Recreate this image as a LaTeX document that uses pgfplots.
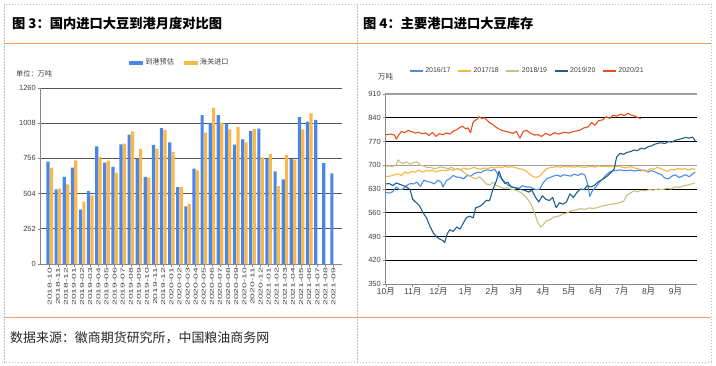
\documentclass[border=0pt]{standalone}
\usepackage{fontspec}
\usepackage{graphicx}
\usepackage{pgfplots}
\pgfplotsset{compat=1.18}
\setmainfont{Liberation Sans}
\newfontfamily\cjk{Noto Sans CJK SC}
\definecolor{barblue}{HTML}{4A86E8}
\definecolor{barorange}{HTML}{F9B84A}
\definecolor{frameorange}{HTML}{F0A062}
\definecolor{dashgray}{HTML}{BBBBBB}
\definecolor{txt}{HTML}{404040}
\definecolor{gridc}{HTML}{555555}
\definecolor{axisgray}{HTML}{888888}
\definecolor{sA}{HTML}{4C8CE4}
\definecolor{sB}{HTML}{F9B640}
\definecolor{sC}{HTML}{C6C27A}
\definecolor{sD}{HTML}{1F5F8E}
\definecolor{sE}{HTML}{E6501E}
\newcommand\xs[1]{\scalebox{1.85}[1]{#1}}
\begin{document}
\begin{tikzpicture}[x=1bp,y=1bp]
\path[use as bounding box,fill=white] (0bp,0bp) rectangle (716bp,-366bp);
% frame
\draw[dashgray,dash pattern=on 1.5bp off 1.5bp,line width=0.6bp] (4bp,-4bp) rectangle (711bp,-362bp);
\draw[dashgray,dash pattern=on 1.5bp off 1.5bp,line width=0.6bp] (357bp,-4bp) -- (357bp,-362bp);
\draw[frameorange,line width=0.9bp] (4bp,-43.5bp) -- (711bp,-43.5bp);
\draw[frameorange,line width=0.9bp] (4bp,-317bp) -- (711bp,-317bp);
% titles
\node[anchor=west,inner sep=0pt,font=\cjk\bfseries\fontsize{13.3}{15}\selectfont] at (12bp,-23bp) {图 3：国内进口大豆到港月度对比图};
\node[anchor=west,inner sep=0pt,font=\cjk\bfseries\fontsize{13.3}{15}\selectfont] at (363bp,-23bp) {图 4：主要港口进口大豆库存};
\node[anchor=west,inner sep=0pt,font=\cjk\fontsize{13}{15}\selectfont,text=black!85] at (10bp,-338bp) {数据来源：徽商期货研究所，中国粮油商务网};
\node[anchor=west,inner sep=0pt,font=\cjk\fontsize{7.2}{8}\selectfont,text=txt] at (16bp,-74bp) {单位：万吨};
\node[anchor=west,inner sep=0pt,font=\cjk\fontsize{7.5}{8}\selectfont,text=txt] at (378bp,-77bp) {万吨};

% left chart
\begin{axis}[
 at={(40bp,-264bp)}, anchor=south west, scale only axis, width=302bp, height=176bp,
 xmin=-1.2, xmax=36.04, ymin=0, ymax=1260,
 axis x line*=bottom, axis y line*=left,
 axis line style={color=axisgray, line width=0.8bp},
 ytick={0,252,504,756,1008,1260},
 ymajorgrids, grid style={color=gridc, line width=0.7bp},
 xtick={0,...,35},
 xticklabels={\xs{2018-10},\xs{2018-11},\xs{2018-12},\xs{2019-01},\xs{2019-02},\xs{2019-03},\xs{2019-04},\xs{2019-05},\xs{2019-06},\xs{2019-07},\xs{2019-08},\xs{2019-09},\xs{2019-10},\xs{2019-11},\xs{2019-12},\xs{2020-01},\xs{2020-02},\xs{2020-03},\xs{2020-04},\xs{2020-05},\xs{2020-06},\xs{2020-07},\xs{2020-08},\xs{2020-09},\xs{2020-10},\xs{2020-11},\xs{2020-12},\xs{2021-01},\xs{2021-02},\xs{2021-03},\xs{2021-04},\xs{2021-05},\xs{2021-06},\xs{2021-07},\xs{2021-08},\xs{2021-09}},
 x tick label style={rotate=90, anchor=east, font=\fontsize{5.6}{6}\selectfont, text=txt, inner sep=1bp},
 y tick label style={font=\fontsize{7.5}{8}\selectfont, text=txt, inner sep=1.5bp},
 /pgf/number format/assume math mode=true,
 /pgf/number format/1000 sep={},
 tick align=outside, major tick length=2.5bp, tick style={color=axisgray, line width=0.6bp},
 ybar=0.2bp, bar width=3.2bp,
 legend style={at={(0.295,1.144)}, anchor=west, draw=none, fill=none, inner sep=0pt,
   legend columns=2, font=\cjk\fontsize{7.2}{8}\selectfont, text=txt,
   /tikz/every even column/.append style={column sep=8bp}},
]
\addplot[fill=barblue, draw=none, legend image code/.code={\fill[barblue] (0bp,-2bp) rectangle (14bp,2bp);}] coordinates {
(0,733) (1,534) (2,623) (3,690) (4,390) (5,522) (6,843) (7,726) (8,695) (9,857) (10,927) (11,755) (12,623) (13,853) (14,973) (15,870) (16,551) (17,412) (18,683) (19,1066) (20,1006) (21,1066) (22,1006) (23,855) (24,893) (25,953) (26,970) (27,755) (28,664) (29,606) (30,750) (31,1052) (32,1020) (33,1032) (34,723) (35,649)};
\addlegendentry{到港预估}
\addplot[fill=barorange, draw=none, legend image code/.code={\fill[barorange] (0bp,-2bp) rectangle (14bp,2bp);}] coordinates {
(0,690) (1,539) (2,570) (3,742) (4,446) (5,491) (6,767) (7,740) (8,654) (9,862) (10,949) (11,824) (12,618) (13,826) (14,958) (15,802) (16,551) (17,429) (18,671) (19,941) (20,1119) (21,1013) (22,963) (23,980) (24,870) (25,965) (26,764) (27,786) (28,558) (29,779) (30,747) (31,963) (32,1078)};
\addlegendentry{海关进口}
\end{axis}

% right chart
\begin{axis}[
 at={(385bp,-284bp)}, anchor=south west, scale only axis, width=312bp, height=190bp,
 xmin=-1, xmax=360, ymin=350, ymax=910,
 axis x line*=bottom, axis y line*=left,
 axis line style={color=axisgray, line width=1bp},
 ytick={350,420,490,560,630,770,840}, extra y ticks={700,910},
 extra y tick style={major grid style={color=gray!75, line width=1.4bp}},
 ymajorgrids, grid style={color=black, line width=0.6bp},
 xtick={0,31,61,92,123,151,182,212,243,273,304,335},
 xticklabels={10{\cjk 月},11{\cjk 月},12{\cjk 月},1{\cjk 月},2{\cjk 月},3{\cjk 月},4{\cjk 月},5{\cjk 月},6{\cjk 月},7{\cjk 月},8{\cjk 月},9{\cjk 月}},
 x tick label style={font=\fontsize{8.5}{9}\selectfont, text=txt, inner sep=1bp},
 y tick label style={font=\fontsize{7.5}{8}\selectfont, text=txt, inner sep=1.5bp},
 /pgf/number format/assume math mode=true,
 tick align=outside, major tick length=2.5bp, tick style={color=axisgray, line width=0.6bp},
 legend style={at={(0.077,1.121)}, anchor=west, draw=none, fill=none, inner sep=0pt,
   legend columns=5, font=\fontsize{7}{8}\selectfont, text=txt,
   /tikz/every even column/.append style={column sep=5bp}},
 legend image code/.code={\draw[#1, line width=1.1bp] (0bp,0bp) -- (13bp,0bp);},
 every axis plot/.append style={line width=1.1bp, line join=round},
]
\addplot[sA] coordinates {
(0,620) (4,618) (8,622) (12,636) (16,628) (20,630) (24,640) (28,646) (32,645) (36,650) (40,638) (44,656) (48,652) (52,650) (56,645) (60,656) (64,650) (66,636) (70,655) (74,660) (78,670) (82,665) (86,664) (90,660) (94,670) (98,668) (102,675) (106,680) (110,678) (114,685) (118,686) (122,684) (126,688) (130,672) (134,660) (138,650) (142,640) (146,636) (150,634) (154,632) (158,640) (162,636) (166,636) (170,632) (174,628) (178,630) (182,648) (186,660) (190,664) (194,668) (198,671) (202,667) (206,672) (210,670) (214,668) (218,674) (222,670) (226,675) (230,672) (233,650) (236,608) (239,625) (243,636) (247,650) (251,660) (255,672) (259,680) (263,684) (267,685) (271,686) (275,685) (279,684) (283,686) (287,683) (291,685) (295,684) (299,686) (303,680) (307,684) (311,681) (315,676) (319,672) (323,662) (327,660) (331,668) (335,672) (339,664) (343,668) (347,672) (351,666) (355,675) (358,680)};
\addlegendentry{2016/17}
\addplot[sB] coordinates {
(0,667) (5,668) (10,672) (14,675) (18,670) (22,680) (26,676) (30,682) (34,680) (38,686) (42,680) (46,684) (50,683) (54,686) (58,680) (62,684) (66,686) (70,684) (74,688) (78,685) (82,690) (86,686) (90,692) (94,688) (98,690) (102,694) (106,690) (110,688) (114,692) (118,690) (122,694) (126,692) (130,695) (134,693) (138,697) (142,694) (146,696) (150,693) (154,690) (158,688) (162,684) (166,675) (170,667) (174,664) (178,668) (182,680) (186,690) (190,693) (194,694) (198,696) (202,694) (206,697) (210,695) (214,696) (218,694) (222,697) (226,695) (230,694) (234,696) (238,697) (242,694) (246,698) (250,696) (254,697) (258,695) (262,698) (266,696) (270,697) (274,694) (278,692) (282,696) (286,694) (290,690) (294,688) (298,684) (302,682) (306,690) (310,688) (314,694) (318,690) (322,686) (326,682) (330,688) (334,686) (338,690) (342,688) (346,690) (350,686) (354,690) (358,688)};
\addlegendentry{2017/18}
\addplot[sC] coordinates {
(0,697) (4,698) (8,696) (12,702) (14,716) (17,708) (20,705) (24,710) (28,703) (32,708) (36,710) (40,700) (44,698) (48,693) (52,694) (56,690) (60,692) (64,695) (68,693) (72,690) (76,694) (80,688) (84,690) (88,684) (92,676) (96,670) (100,664) (104,660) (108,666) (112,658) (116,645) (120,642) (124,650) (128,640) (132,636) (136,632) (140,634) (144,630) (148,628) (152,625) (156,620) (160,612) (164,600) (168,585) (172,560) (176,530) (179,518) (182,524) (185,535) (190,540) (195,548) (200,550) (205,556) (210,560) (215,566) (220,568) (225,572) (230,570) (235,574) (240,573) (245,575) (250,580) (255,582) (260,585) (265,586) (270,590) (275,594) (279,612) (283,618) (287,625) (291,622) (295,626) (300,625) (305,628) (310,627) (315,630) (320,628) (325,632) (330,630) (335,636) (340,635) (345,640) (350,642) (355,646) (358,648)};
\addlegendentry{2018/19}
\addplot[sD] coordinates {
(0,645) (4,646) (8,640) (12,648) (16,644) (20,640) (24,636) (28,628) (31,600) (35,590) (39,580) (43,560) (47,545) (51,520) (55,500) (59,488) (62,483) (66,478) (68,472) (71,498) (74,510) (78,505) (82,518) (86,512) (89,527) (93,545) (97,550) (101,545) (104,575) (108,578) (112,585) (116,596) (120,596) (124,630) (128,655) (131,682) (134,660) (138,646) (141,650) (145,636) (149,634) (153,631) (157,628) (161,626) (165,621) (169,626) (173,606) (177,592) (181,610) (185,600) (189,596) (193,605) (197,575) (201,590) (205,585) (209,592) (213,616) (217,605) (221,620) (225,630) (229,628) (233,640) (237,636) (241,640) (245,650) (249,656) (253,662) (257,670) (261,680) (264,688) (267,724) (271,735) (275,732) (279,738) (283,740) (287,745) (291,743) (295,750) (299,748) (303,754) (307,757) (311,762) (315,765) (319,766) (323,764) (327,770) (331,768) (335,774) (339,776) (343,779) (347,782) (351,780) (355,783) (358,772)};
\addlegendentry{2019/20}
\addplot[sE] coordinates {
(0,790) (5,792) (10,789) (12,777) (15,790) (18,800) (22,796) (26,803) (30,799) (34,795) (38,797) (42,793) (46,795) (50,788) (54,797) (58,785) (62,793) (66,790) (70,795) (74,792) (78,800) (82,805) (86,812) (89,815) (92,808) (95,810) (98,796) (101,828) (105,835) (108,843) (111,838) (114,840) (117,833) (120,825) (122,823) (126,815) (130,808) (134,803) (138,800) (142,798) (147,794) (151,800) (155,780) (159,800) (163,803) (167,795) (172,789) (176,790) (180,785) (185,794) (190,788) (195,796) (200,792) (206,797) (212,795) (218,800) (224,803) (229,810) (234,813) (238,826) (242,818) (246,831) (251,834) (255,843) (259,838) (263,848) (267,845) (272,851) (276,846) (280,853) (284,848) (288,845) (292,840) (295,838)};
\addlegendentry{2020/21}
\end{axis}
\end{tikzpicture}
\end{document}
